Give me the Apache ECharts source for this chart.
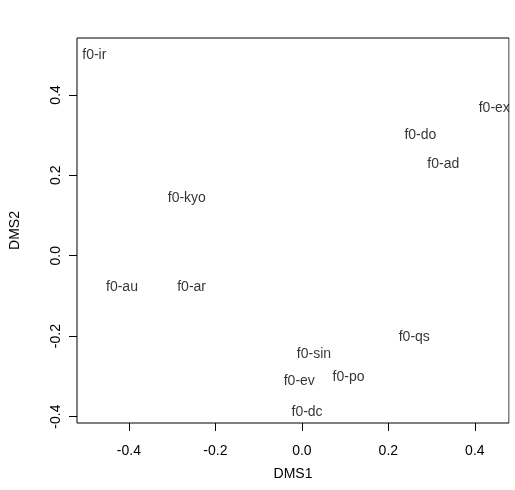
<!DOCTYPE html>
<html>
<head>
<meta charset="utf-8">
<script src="https://cdn.jsdelivr.net/npm/echarts@6/dist/echarts.min.js"></script>
<style>html,body{margin:0;padding:0;background:#fff}#c{width:515px;height:490px}</style>
</head>
<body>
<div id="c"></div>
<script>
const names = ['f0-ir','f0-ex','f0-do','f0-ad','f0-kyo','f0-au','f0-ar','f0-qs','f0-sin','f0-ev','f0-po','f0-dc'];
const dms1 = [-0.480, 0.445, 0.274, 0.327, -0.266, -0.416, -0.255, 0.260, 0.028, -0.006, 0.108, 0.012];
const dms2 = [0.499, 0.367, 0.300, 0.228, 0.143, -0.077, -0.077, -0.203, -0.245, -0.313, -0.303, -0.390];
const xTicks = [-0.4, -0.2, 0.0, 0.2, 0.4];
const yTicks = [-0.4, -0.2, 0.0, 0.2, 0.4];

const font = 'Liberation Sans, Arial, sans-serif';
const fs = 14;
const chart = echarts.init(document.getElementById('c'), null, {renderer: 'canvas'});
chart.setOption({
  animation: false,
  backgroundColor: '#fff',
  grid: {left: 76.5, right: 6, top: 38, bottom: 67, show: true, borderColor: '#000', borderWidth: 1, backgroundColor: 'transparent'},
  xAxis: {
    type: 'value', min: -0.52, max: 0.479,
    name: 'DMS1', nameLocation: 'middle', nameGap: 44,
    nameTextStyle: {color: '#000', fontSize: fs, fontFamily: font},
    axisLine: {show: false, onZero: false},
    splitLine: {show: false},
    axisTick: {show: true, inside: false, length: 8, lineStyle: {color: '#000'}, customValues: xTicks},
    axisLabel: {color: '#000', fontSize: fs, fontFamily: font, margin: 21, customValues: xTicks,
      formatter: v => v.toFixed(1)}
  },
  yAxis: {
    type: 'value', min: -0.416, max: 0.5415,
    name: 'DMS2', nameLocation: 'middle', nameGap: 55,
    nameTextStyle: {color: '#000', fontSize: fs, fontFamily: font},
    axisLine: {show: false, onZero: false},
    splitLine: {show: false},
    axisTick: {show: true, inside: false, length: 8, lineStyle: {color: '#000'}, customValues: yTicks},
    axisLabel: {color: '#000', fontSize: fs, fontFamily: font, margin: 14, rotate: 90, customValues: yTicks,
      formatter: v => v.toFixed(1)}
  },
  series: [{
    type: 'scatter',
    symbolSize: 0,
    data: names.map((n, i) => [dms1[i], dms2[i], n]),
    label: {show: true, position: 'inside', formatter: p => p.data[2], color: '#000', fontSize: fs, fontFamily: font}
  }],
  graphic: [{type: 'rect', z: 100, shape: {x: 509.5, y: 0, width: 10, height: 490}, style: {fill: '#fff'}}]
});
</script>
</body>
</html>
